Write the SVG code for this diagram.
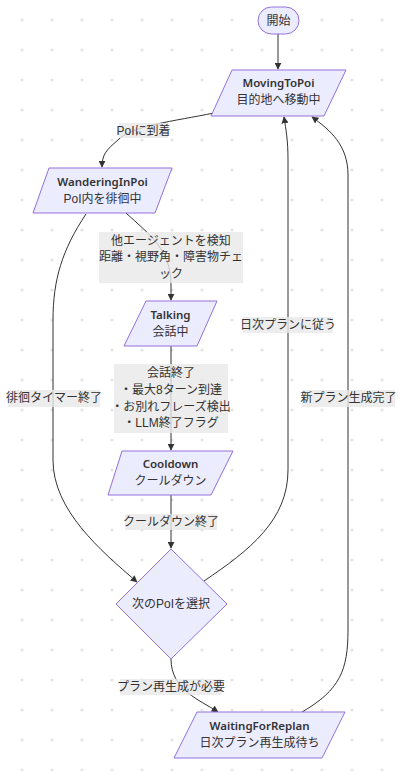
<svg xmlns="http://www.w3.org/2000/svg" width="403" height="771" viewBox="0 0 403 771">
<defs>
<pattern id="dots" x="0" y="0" width="30" height="30" patternUnits="userSpaceOnUse">
<circle cx="22" cy="20" r="1.6" fill="#e3e3e3"/>
</pattern>
<marker id="arr" viewBox="0 0 10 10" refX="9" refY="5" markerWidth="7" markerHeight="7" orient="auto-start-reverse" markerUnits="userSpaceOnUse">
<path d="M0,0 L10,5 L0,10 z" fill="#333"/>
</marker>
<style>
.node{fill:#ECECFF;stroke:#9370DB;stroke-width:1}
.t{font-family:"Liberation Sans","Noto Sans CJK JP",sans-serif;font-size:12px;fill:#333;text-anchor:middle}
.b{font-family:"Noto Sans","Liberation Sans",sans-serif;font-weight:600;font-size:11.5px;fill:#333}
.edge{fill:none;stroke:#333;stroke-width:1}
.lbl{fill:#e8e8e8;fill-opacity:0.8}
</style>
</defs>
<rect width="403" height="771" fill="#ffffff"/>
<rect width="403" height="771" fill="url(#dots)"/>

<g id="edges">
<path class="edge" d="M278,34 L278,69" marker-end="url(#arr)"/>
<path class="edge" d="M214,113 C175,121 130,126 118,140 C106,150 102,155 102,167" marker-end="url(#arr)"/>
<path class="edge" d="M126,213 C150,235 171,250 171,285 L171,300" marker-end="url(#arr)"/>
<path class="edge" d="M171,346 L171,450" marker-end="url(#arr)"/>
<path class="edge" d="M171,495 L171,548" marker-end="url(#arr)"/>
<path class="edge" d="M86,214 C62,250 53,280 53,320 L53,460 C53,510 100,550 137,582" marker-end="url(#arr)"/>
<path class="edge" d="M204,581 C250,550 288,520 288,470 L288,160 C288,140 286,130 284,117" marker-end="url(#arr)"/>
<path class="edge" d="M171,659 C171,690 200,700 218,712" marker-end="url(#arr)"/>
<path class="edge" d="M302,712 C340,690 348,670 348,630 L348,175 C348,145 330,130 312,117" marker-end="url(#arr)"/>
</g>

<g id="edge-labels">
<rect class="lbl" x="119" y="123" width="49" height="15"/>
<text class="t" x="143.5" y="135">PoIに到着</text>
<rect class="lbl" x="99" y="232" width="144" height="51"/>
<text class="t" x="171" y="245">他エージェントを検知</text>
<text class="t" x="171" y="261">距離・視野角・障害物チェ</text>
<text class="t" x="171" y="278">ック</text>
<rect class="lbl" x="114" y="364" width="114" height="69"/>
<text class="t" x="171" y="377">会話終了</text>
<text class="t" x="171" y="394">・最大8ターン到達</text>
<text class="t" x="171" y="411">・お別れフレーズ検出</text>
<text class="t" x="171" y="427">・LLM終了フラグ</text>
<rect class="lbl" x="125" y="514" width="92" height="16"/>
<text class="t" x="171" y="526">クールダウン終了</text>
<rect class="lbl" x="8" y="390" width="92" height="17"/>
<text class="t" x="54" y="402">徘徊タイマー終了</text>
<rect class="lbl" x="243" y="317" width="90" height="16"/>
<text class="t" x="288" y="329">日次プランに従う</text>
<rect class="lbl" x="302" y="390" width="93" height="17"/>
<text class="t" x="348.5" y="402">新プラン生成完了</text>
<rect class="lbl" x="120" y="679" width="102" height="16"/>
<text class="t" x="171" y="691">プラン再生成が必要</text>
</g>

<g id="start">
<rect class="node" x="258" y="7" width="41" height="27" rx="13.5"/>
<text class="t" x="278.5" y="24.5">開始</text>
</g>
<g id="MovingToPoi">
<polygon class="node" points="232,70 346,70 324,116 211,116"/>
<text class="t b" x="278.5" y="87">MovingToPoi</text>
<text class="t" x="278.5" y="104">目的地へ移動中</text>
</g>
<g id="WanderingInPoi">
<polygon class="node" points="49,168 172,168 155,213 33,213"/>
<text class="t b" x="102.5" y="186">WanderingInPoi</text>
<text class="t" x="102.5" y="203">PoI内を徘徊中</text>
</g>
<g id="Talking">
<polygon class="node" points="146,301 217,301 197,346 124,346"/>
<text class="t b" x="170.5" y="319">Talking</text>
<text class="t" x="170.5" y="336">会話中</text>
</g>
<g id="Cooldown">
<polygon class="node" points="122,451 233,451 211,495 108,495"/>
<text class="t b" x="170.5" y="468">Cooldown</text>
<text class="t" x="170.5" y="485">クールダウン</text>
</g>
<g id="SelectNextPoi">
<polygon class="node" points="171,549 227,604 171,659 116,604"/>
<text class="t" x="171" y="608">次のPoIを選択</text>
</g>
<g id="WaitingForReplan">
<polygon class="node" points="197,712 345,712 322,758 174,758"/>
<text class="t b" x="259.5" y="730">WaitingForReplan</text>
<text class="t" x="259.5" y="747">日次プラン再生成待ち</text>
</g>
</svg>
